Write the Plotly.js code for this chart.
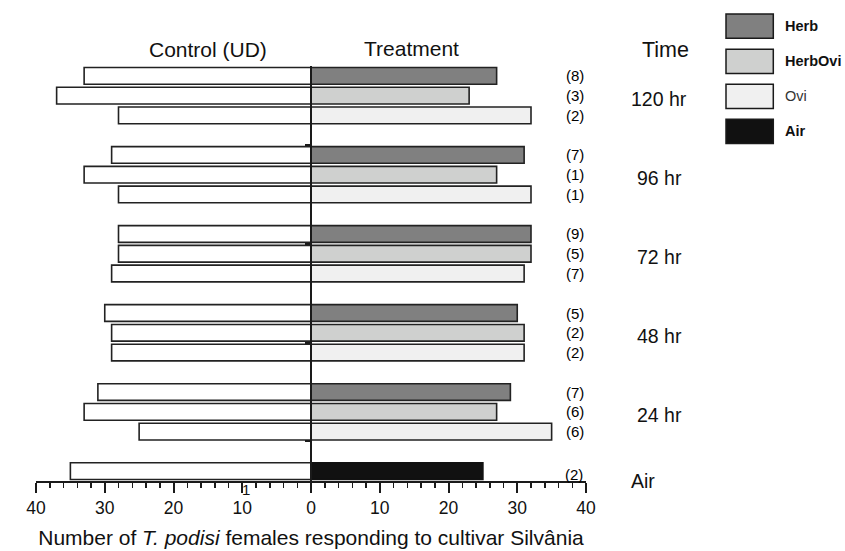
<!DOCTYPE html>
<html>
<head>
<meta charset="utf-8">
<script src="https://cdn.plot.ly/plotly-3.0.1.min.js"></script>
<style>html,body{margin:0;padding:0;background:#fff;}#chart{width:845px;height:551px;}</style>
</head>
<body>
<div id="chart"></div>
<script>
// ---- data ----
const times = ['120 hr', '96 hr', '72 hr', '48 hr', '24 hr'];
const treatments = ['Herb', 'HerbOvi', 'Ovi'];
const treatmentColors = ['#808080', '#cfd0cf', '#f0f0f0'];
const airColor = '#111111';

const controlHerb    = [33, 29, 28, 30, 31];
const treatHerb      = [27, 31, 32, 30, 29];
const controlHerbOvi = [37, 33, 28, 29, 33];
const treatHerbOvi   = [23, 27, 32, 31, 27];
const controlOvi     = [28, 28, 29, 29, 25];
const treatOvi       = [32, 32, 31, 31, 35];

const nHerb    = ['(8)', '(7)', '(9)', '(5)', '(7)'];
const nHerbOvi = ['(3)', '(1)', '(5)', '(2)', '(6)'];
const nOvi     = ['(2)', '(1)', '(7)', '(2)', '(6)'];

const airLabel = 'Air';
const airControl = [35];
const airTreat = [25];
const airN = ['(2)'];

const tickVals = [-40, -30, -20, -10, 0, 10, 20, 30, 40];
const tickText = ['40', '30', '20', '10', '0', '10', '20', '30', '40'];

// ---- layout helpers ----
const FONT = 'Liberation Sans, Arial, Helvetica, sans-serif';
const L = 36, R = 586, T = 66, B = 481.5;
const px = x => (x - L) / (R - L);
const py = y => (B - y) / (B - T);

// row positions: each time group has 3 rows, groups separated by one empty row, Air row at bottom
const nG = times.length;
const groupBase = times.map((t, g) => (nG - 1 - g) * 4 + 2);
const rowOf = k => groupBase.map(b => b + (2 - k)); // k: 0 Herb, 1 HerbOvi, 2 Ovi
const airRow = [0];

const controls = [controlHerb, controlHerbOvi, controlOvi];
const treats = [treatHerb, treatHerbOvi, treatOvi];
const ns = [nHerb, nHerbOvi, nOvi];

const BW = 0.845;
const OUT = '#222222';
const traces = [];
treatments.forEach((name, k) => {
  traces.push({
    type: 'bar', orientation: 'h', name: 'Control ' + name,
    y: rowOf(k), x: controls[k].map(v => -v), customdata: times,
    width: BW, marker: {color: '#ffffff', line: {color: OUT, width: 1.6}},
    showlegend: false
  });
  traces.push({
    type: 'bar', orientation: 'h', name: name,
    y: rowOf(k), x: treats[k], customdata: times,
    width: BW, marker: {color: treatmentColors[k], line: {color: OUT, width: 1.6}},
    showlegend: false
  });
});
traces.push({
  type: 'bar', orientation: 'h', name: 'Control Air',
  y: airRow, x: airControl.map(v => -v), width: BW,
  marker: {color: '#ffffff', line: {color: OUT, width: 1.6}}, showlegend: false
});
traces.push({
  type: 'bar', orientation: 'h', name: airLabel,
  y: airRow, x: airTreat, width: BW,
  marker: {color: airColor, line: {color: '#111111', width: 1.6}}, showlegend: false
});

const annotations = [];
const shapes = [];
const txt = (text, x, xref, y, yref, size, opts) => Object.assign({
  text, x, xref, y, yref, showarrow: false, xanchor: 'center', yanchor: 'middle',
  font: {family: FONT, size, color: '#111111'}
}, opts || {});

// headers
annotations.push(txt('Control (UD)', px(208), 'paper', py(49), 'paper', 21));
annotations.push(txt('Treatment', px(411), 'paper', py(48), 'paper', 21));
annotations.push(txt('Time', px(665), 'paper', py(50), 'paper', 21.5));

// counts
treatments.forEach((name, k) => {
  rowOf(k).forEach((yv, i) => annotations.push(txt(ns[k][i], px(575), 'paper', yv, 'y', 15, {font: {family: FONT, size: 15, color: '#000000'}})));
});
annotations.push(txt(airN[0], px(574), 'paper', airRow[0], 'y', 15, {yshift: -3, font: {family: FONT, size: 15, color: '#000000'}}));

// time labels
times.forEach((t, g) => annotations.push(txt(t, px(659), 'paper', groupBase[g] + 1, 'y', 19.5, {yshift: -3})));
annotations.push(txt(airLabel, px(643), 'paper', airRow[0], 'y', 19.5, {yshift: -10}));

// stray glyph near axis
annotations.push(txt('1', px(245.5), 'paper', py(490), 'paper', 15));

// legend
const legNames = treatments.concat([airLabel]);
const legColors = treatmentColors.concat([airColor]);
const legTop = [14, 49.3, 84.3, 119.3];
const legBold = [true, true, false, true];
legNames.forEach((name, i) => {
  shapes.push({type: 'rect', xref: 'paper', yref: 'paper',
    x0: px(726), x1: px(773.3), y0: py(legTop[i] + 24.3), y1: py(legTop[i]),
    fillcolor: legColors[i], line: {color: '#1a1a1a', width: 1.5}});
  annotations.push(txt(legBold[i] ? '<b>' + name + '</b>' : name, px(783), 'paper', py(legTop[i] + 12), 'paper', 14.5,
    {xanchor: 'left', font: {family: FONT, size: 14.5, color: legBold[i] ? '#111111' : '#333333'}}));
});

const layout = {
  width: 845, height: 551,
  margin: {l: L, r: 845 - R, t: T, b: 551 - B, pad: 0},
  paper_bgcolor: '#ffffff', plot_bgcolor: '#ffffff',
  barmode: 'overlay', showlegend: false,
  font: {family: FONT, color: '#111111'},
  xaxis: {
    range: [-40, 40], tickmode: 'array', tickvals: tickVals, ticktext: tickText,
    showline: true, linecolor: '#1a1a1a', linewidth: 2,
    ticks: 'outside', ticklen: 10, tickwidth: 2, tickcolor: '#1a1a1a',
    minor: {dtick: 2, tick0: 0, ticks: 'outside', ticklen: 5, tickwidth: 1.5, tickcolor: '#1a1a1a', showgrid: false},
    showgrid: false, zeroline: false,
    tickfont: {family: FONT, size: 17.5, color: '#111111'},
    title: {text: 'Number of <i>T. podisi</i> females responding to cultivar Silvânia',
            font: {family: FONT, size: 21, color: '#111111'}, standoff: 13},
    fixedrange: true
  },
  yaxis: {
    range: [-0.5, 20.5], anchor: 'free', position: 0.5,
    showline: true, linecolor: '#1a1a1a', linewidth: 2,
    ticks: 'outside', tickmode: 'array', tickvals: [1.5, 6.5, 11.5, 16.5],
    ticklen: 5, tickwidth: 2, tickcolor: '#1a1a1a',
    showticklabels: false, showgrid: false, zeroline: false, fixedrange: true
  },
  yaxis2: {
    range: [-0.5, 20.5], overlaying: 'y', anchor: 'free', position: 0.5,
    showline: false, ticks: 'inside', tickmode: 'array', tickvals: [1.5, 6.5, 11.5, 16.5],
    ticklen: 5, tickwidth: 2, tickcolor: '#1a1a1a',
    showticklabels: false, showgrid: false, zeroline: false, fixedrange: true
  },
  annotations, shapes
};

Plotly.newPlot('chart', traces, layout, {displayModeBar: false, staticPlot: true});
</script>
</body>
</html>
